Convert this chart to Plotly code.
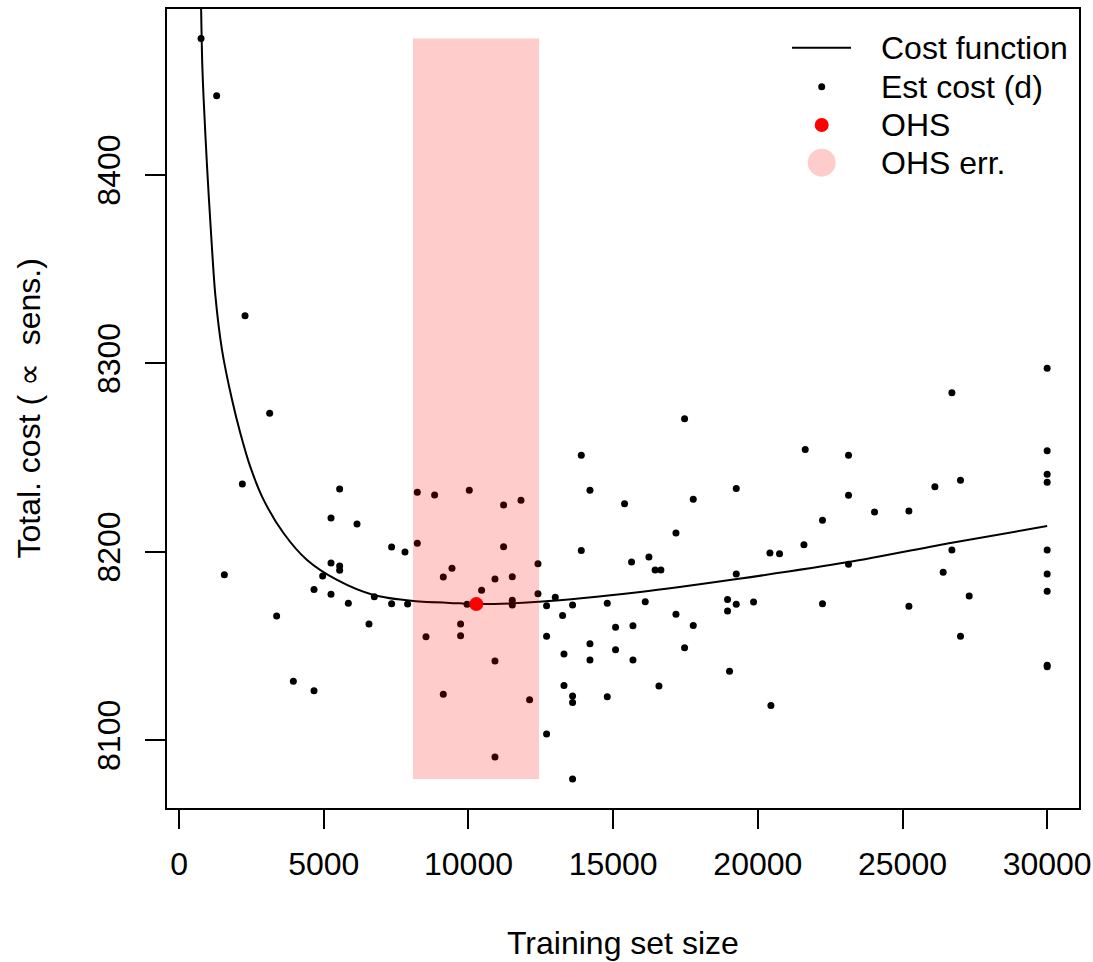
import plotly.graph_objects as go

# ---- data ----
cost_x = [757, 800, 847, 964, 1102, 1251, 1482, 1828, 2115, 2460, 2920, 3611, 4420,
          5456, 6721, 8103, 9716, 10270, 12436, 15936, 19277, 23134, 26707, 30000]
cost_y = [8490, 8458, 8440, 8404.5, 8369, 8336, 8307, 8280.6, 8262.9, 8245, 8227.5,
          8209.8, 8195.6, 8185, 8177, 8173.8, 8172.6, 8172.2, 8173.4, 8178.6, 8185.5,
          8194.5, 8204.8, 8213.6]

est_x = [757, 1296, 2277, 3128, 2184, 5547, 5248, 6147, 7343, 7805, 8231, 8829, 8231,
         1562, 5248, 5547, 5547, 4960, 4661, 5248, 5847, 6745, 7343, 7896, 3369, 6561,
         8531, 9129, 9429, 3946, 4661, 9129,
         10028, 11213, 11814, 13898, 14198, 15394, 11213, 13898, 15636, 16236, 12401,
         10915, 11513, 10453, 12401, 12999, 9950, 11513, 11513, 12699, 13597, 14796,
         16109, 13252, 9727, 9727, 12699, 15083, 15684, 14198, 15083, 13300, 14198,
         15684, 10915, 13300, 13597, 13597, 14796, 12112, 12699, 10915, 13597,
         17468, 21638, 23134, 19254, 17768, 23134, 24033, 22235, 17170, 21593, 20418,
         20750, 16450, 16650, 19254, 23134, 18953, 18953, 19254, 19852, 22235, 17170,
         17768, 17468, 19022, 16582, 20452,
         30000, 26707, 30000, 30000, 30000, 27004, 26119, 25221, 26707, 30000, 26406,
         30000, 30000, 27305, 25221, 27004, 30000, 30000]
est_y = [8472.3, 8442, 8325.2, 8273.5, 8236, 8233.3, 8217.9, 8214.7, 8202.5, 8199.8,
         8231.5, 8230.1, 8204.5, 8187.8, 8194, 8192.4, 8190.1, 8187.1, 8180, 8177.4,
         8172.6, 8176.1, 8172.4, 8172.2, 8165.9, 8161.6, 8154.9, 8186.6, 8191.2, 8131.3,
         8126.2, 8124.3,
         8232.6, 8224.8, 8227.3, 8251.2, 8232.6, 8225.5, 8202.7, 8200.7, 8194.5, 8197.2,
         8193.6, 8185.5, 8186.7, 8179.5, 8177.7, 8175.9, 8172.1, 8174.2, 8171.7, 8171.3,
         8171.7, 8172.6, 8173.5, 8166.2, 8161.6, 8155.4, 8155.2, 8159.9, 8160.7, 8151.1,
         8148, 8145.7, 8142.5, 8142.5, 8142, 8129, 8123.4, 8120, 8123, 8121.4, 8103.3,
         8091.1, 8079.4,
         8270.5, 8254.2, 8251.2, 8233.5, 8227.8, 8230, 8221.1, 8216.7, 8209.9, 8203.7,
         8199.3, 8198.9, 8190.3, 8190.3, 8188.2, 8193.3, 8174.7, 8168.5, 8172.1, 8173.3,
         8172.4, 8166.8, 8160.9, 8149, 8136.6, 8128.8, 8118.4,
         8297.4, 8284.4, 8253.6, 8241.1, 8236.9, 8237.9, 8234.5, 8221.6, 8200.9, 8200.9,
         8189.1, 8188.2, 8179, 8176.5, 8171, 8155.2, 8139.7, 8139.0]

ohs_x = [10270]
ohs_y = [8172.2]

band_x = [8080, 12440]      # OHS error interval (training set size)
band_y = [8079.4, 8472.3]   # vertical span of the band

x_ticks = [0, 5000, 10000, 15000, 20000, 25000, 30000]
y_ticks = [8100, 8200, 8300, 8400]

legend_labels = ["Cost function", "Est cost (d)", "OHS", "OHS err."]

FONT = "Liberation Sans, Arial, Helvetica, sans-serif"
FS = 32
PINK = "rgba(255,0,0,0.2)"

fig = go.Figure()

fig.add_trace(go.Scatter(x=est_x, y=est_y, mode="markers",
                         marker=dict(color="black", size=7), name=legend_labels[1],
                         showlegend=False))
fig.add_trace(go.Scatter(x=cost_x, y=cost_y, mode="lines",
                         line=dict(color="black", width=2, shape="spline", smoothing=0.8),
                         name=legend_labels[0], showlegend=False))
fig.add_trace(go.Scatter(x=[band_x[0], band_x[1], band_x[1], band_x[0], band_x[0]],
                         y=[band_y[0], band_y[0], band_y[1], band_y[1], band_y[0]],
                         mode="lines", fill="toself", fillcolor=PINK,
                         line=dict(width=0, color=PINK), name=legend_labels[3],
                         showlegend=False, hoverinfo="skip"))
fig.add_trace(go.Scatter(x=ohs_x, y=ohs_y, mode="markers",
                         marker=dict(color="red", size=14), name=legend_labels[2],
                         showlegend=False))

# plot area in pixels
L, R, T, B = 167, 14, 9, 154
W, H = 1093, 962
pw, ph = W - L - R, H - T - B


def px(xp):
    return (xp - L) / pw


def py(yp):
    return (H - B - yp) / ph


# manual legend (R style, no box)
rows = [47.7, 86.7, 125.0, 162.7]
sym_x = 821.7
shapes = []
shapes.append(dict(type="line", xref="paper", yref="paper",
                   x0=px(792), x1=px(851), y0=py(rows[0]), y1=py(rows[0]),
                   line=dict(color="black", width=2)))
for row, d, col in [(rows[1], 7, "black"), (rows[2], 14, "red"), (rows[3], 28, PINK)]:
    shapes.append(dict(type="circle", xref="paper", yref="paper",
                       xsizemode="pixel", ysizemode="pixel",
                       xanchor=px(sym_x), yanchor=py(row),
                       x0=-d / 2, x1=d / 2, y0=-d / 2, y1=d / 2,
                       fillcolor=col, line=dict(width=0)))

annotations = []
for lab, row in zip(legend_labels, rows):
    annotations.append(dict(text=lab, xref="paper", yref="paper", x=px(879), y=py(row),
                            xanchor="left", yanchor="middle", showarrow=False,
                            font=dict(family=FONT, size=FS, color="black")))

annotations.append(dict(text="Training set size", xref="paper", yref="paper",
                        x=0.5, y=0, xanchor="center", yanchor="middle", yshift=-135,
                        showarrow=False, font=dict(family=FONT, size=FS, color="black")))
annotations.append(dict(text="Total. cost ( \u221d  sens.)", xref="paper", yref="paper",
                        x=0, y=0.5, xanchor="center", yanchor="middle", xshift=-139,
                        textangle=-90, showarrow=False,
                        font=dict(family=FONT, size=FS, color="black")))

fig.update_layout(
    width=W, height=H,
    margin=dict(l=L, r=R, t=T, b=B, autoexpand=False),
    paper_bgcolor="white", plot_bgcolor="white",
    font=dict(family=FONT, size=FS, color="black"),
    showlegend=False,
    shapes=shapes, annotations=annotations,
)
fig.update_xaxes(range=[-420, 31100], tickvals=x_ticks, ticktext=[str(v) for v in x_ticks],
                 ticks="outside", ticklen=19, tickwidth=2, tickcolor="black",
                 showline=True, linecolor="black", linewidth=2, mirror=True,
                 showgrid=False, zeroline=False, ticklabelstandoff=8,
                 tickfont=dict(family=FONT, size=FS, color="black"))
fig.update_yaxes(range=[8064, 8488], tickvals=y_ticks, ticktext=[str(v) for v in y_ticks],
                 ticks="outside", ticklen=20, tickwidth=2, tickcolor="black",
                 showline=True, linecolor="black", linewidth=2, mirror=True,
                 showgrid=False, zeroline=False, tickangle=-90, ticklabelstandoff=12,
                 tickfont=dict(family=FONT, size=FS, color="black"))

fig.write_html("out.html", config={"displayModeBar": False},
               post_script="document.body.style.margin='0px';")
